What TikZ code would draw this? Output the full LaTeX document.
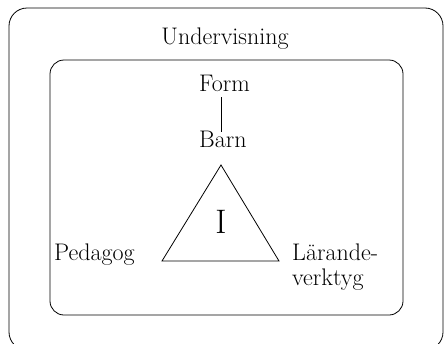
\documentclass[tikz,border=0pt]{standalone}
\usepackage{tikz}
\usetikzlibrary{positioning}

\begin{document}
\begin{tikzpicture}[x=1pt, y=-1pt,
    frame/.style={draw, line width=0.8pt, rounded corners=18pt},
    lbl/.style={font=\fontsize{24}{25.5}\selectfont, inner sep=0pt},
    conn/.style={line width=0.8pt}
]
    \useasboundingbox (0,0) rectangle (444,343);
    \clip (0,0) rectangle (444,343);

    % Frames
    \draw[frame] (9,8) rectangle (443,350);
    \draw[frame, rounded corners=14pt] (50,60) rectangle (403,315);

    \node[lbl, anchor=base] (undervisning) at (225,44) {Undervisning};

    % Form -- Barn
    \coordinate (top) at (221,165);
    \coordinate (left) at (162,261);
    \coordinate (right) at (279,261);
    \node[lbl, anchor=base west] (form) at (199,91) {Form};
    \node[lbl, anchor=base west] (barn) at (199,147) {Barn};
    \draw[conn, shorten <=6pt, shorten >=-2pt] (form.south -| top) -- (barn.north -| top);

    % Triangle
    \draw[conn, line join=miter] (top) -- (left) -- (right) -- cycle;
    \node[font=\fontsize{34}{38}\selectfont, inner sep=0pt, anchor=base] (ival) at (221,233) {I};

    \node[lbl, anchor=base west] (pedagog) at (54,260) {Pedagog};
    \node[lbl, anchor=north west, align=left] (larande) at (292,243.5) {Lärande-\\verktyg};
\end{tikzpicture}
\end{document}
